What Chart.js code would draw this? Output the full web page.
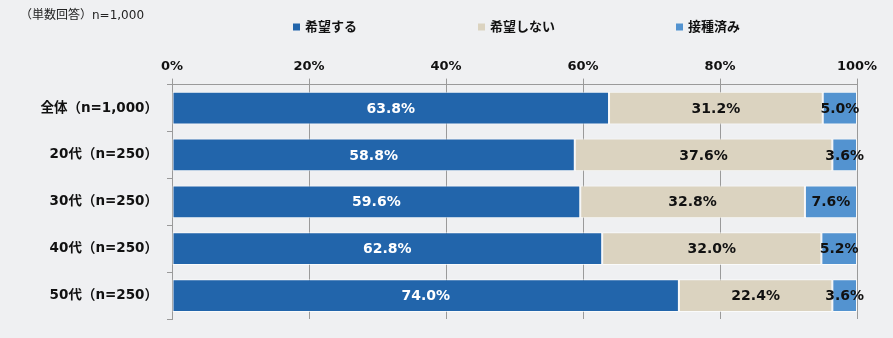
<!DOCTYPE html>
<html>
<head>
<meta charset="utf-8">
<script src="https://cdn.jsdelivr.net/npm/chart.js@4"></script>
<style>
  html, body { margin: 0; padding: 0; background: #eff0f2; }
  #wrap { width: 893px; height: 338px; }
</style>
</head>
<body>
<div id="wrap"><canvas id="vaccine-chart" width="893" height="338"></canvas></div>
<script>
// data
const categories = ['全体（n=1,000）', '20代（n=250）', '30代（n=250）', '40代（n=250）', '50代（n=250）'];
const seriesNames = ['希望する', '希望しない', '接種済み'];
const wantValues = [63.8, 58.8, 59.6, 62.8, 74.0];
const notWantValues = [31.2, 37.6, 32.8, 32.0, 22.4];
const doneValues = [5.0, 3.6, 7.6, 5.2, 3.6];
const xTicks = [0, 20, 40, 60, 80, 100];
const noteText = '（単数回答）n=1,000';

const colors = ['#2265ab', '#dbd3c0', '#5393d0'];
const fontFamily = '"DejaVu Sans", "Noto Sans CJK JP", sans-serif';
const textColor = '#111111';

//value labels in the middle of each segment
const barLabels = {
    id: 'barLabels',
    afterDatasetsDraw(chart) {
        const ctx = chart.ctx;
        ctx.save();
        ctx.font = 'bold 14px ' + fontFamily;
        ctx.textAlign = 'center';
        ctx.textBaseline = 'middle';
        chart.data.datasets.forEach((ds, i) => {
            const meta = chart.getDatasetMeta(i);
            ctx.fillStyle = i === 0 ? '#ffffff' : textColor;
            meta.data.forEach((bar, j) => {
                const x = (bar.x + bar.base) / 2;
                ctx.fillText(ds.data[j].toFixed(1) + '%', x, bar.y + 1);
            });
        });
        ctx.restore();
    }
};

//note in the corner and a legend centred over the plot
const topTexts = {
    id: 'topTexts',
    afterDraw(chart) {
        const ctx = chart.ctx;
        const area = chart.chartArea;
        ctx.save();
        ctx.textBaseline = 'middle';
        ctx.fillStyle = '#222222';
        ctx.font = '12px ' + fontFamily;
        ctx.textAlign = 'left';
        ctx.fillText(noteText, 20, 16);

        ctx.font = 'bold 13px ' + fontFamily;
        const box = 7, gap = 5, spacing = 121;
        const widths = chart.data.datasets.map(ds => box + gap + ctx.measureText(ds.label).width);
        const total = widths.reduce((a, b) => a + b, 0) + spacing * (widths.length - 1);
        let x = (area.left + area.right) / 2 - total / 2 + 2;
        const y = 27;
        chart.data.datasets.forEach((ds, i) => {
            ctx.fillStyle = ds.backgroundColor;
            ctx.fillRect(x, y - box / 2, box, box);
            ctx.fillStyle = textColor;
            ctx.fillText(ds.label, x + box + gap, y + 1);
            x += widths[i] + spacing;
        });
        ctx.restore();
    }
};

const seriesValues = [wantValues, notWantValues, doneValues];

new Chart(document.querySelector('#vaccine-chart').getContext('2d'), {
    type: 'bar',
    data: {
        labels: categories,
        datasets: seriesNames.map((name, i) => ({
            label: name,
            data: seriesValues[i],
            backgroundColor: colors[i],
            borderColor: 'rgba(255,255,255,0.7)',
            borderWidth: 1,
            borderSkipped: false,
            barPercentage: 0.7,
            categoryPercentage: 1.0
        }))
    },
    options: {
        indexAxis: 'y',
        responsive: false,
        animation: false,
        layout: { padding: { top: 55, right: 36, bottom: 19, left: 0 } },
        plugins: {
            legend: { display: false },
            tooltip: { enabled: false }
        },
        scales: {
            x: {
                stacked: true,
                position: 'top',
                min: 0,
                max: 100,
                afterBuildTicks: scale => { scale.ticks = xTicks.map(v => ({ value: v })); },
                ticks: {
                    callback: v => v + '%',
                    color: textColor,
                    padding: 4,
                    maxRotation: 0,
                    font: { family: fontFamily, size: 13, weight: 'bold' }
                },
                grid: { color: '#9a9a9a', tickLength: 6, lineWidth: 1 },
                border: { color: '#9a9a9a' }
            },
            y: {
                stacked: true,
                afterFit: scale => { scale.width = 172; },
                ticks: {
                    color: textColor,
                    padding: 9,
                    font: { family: fontFamily, size: 13.5, weight: 'bold' }
                },
                grid: { drawOnChartArea: false, color: '#9a9a9a', tickLength: 5, offset: true },
                border: { color: '#9a9a9a' }
            }
        }
    },
    plugins: [barLabels, topTexts]
});
</script>
</body>
</html>
